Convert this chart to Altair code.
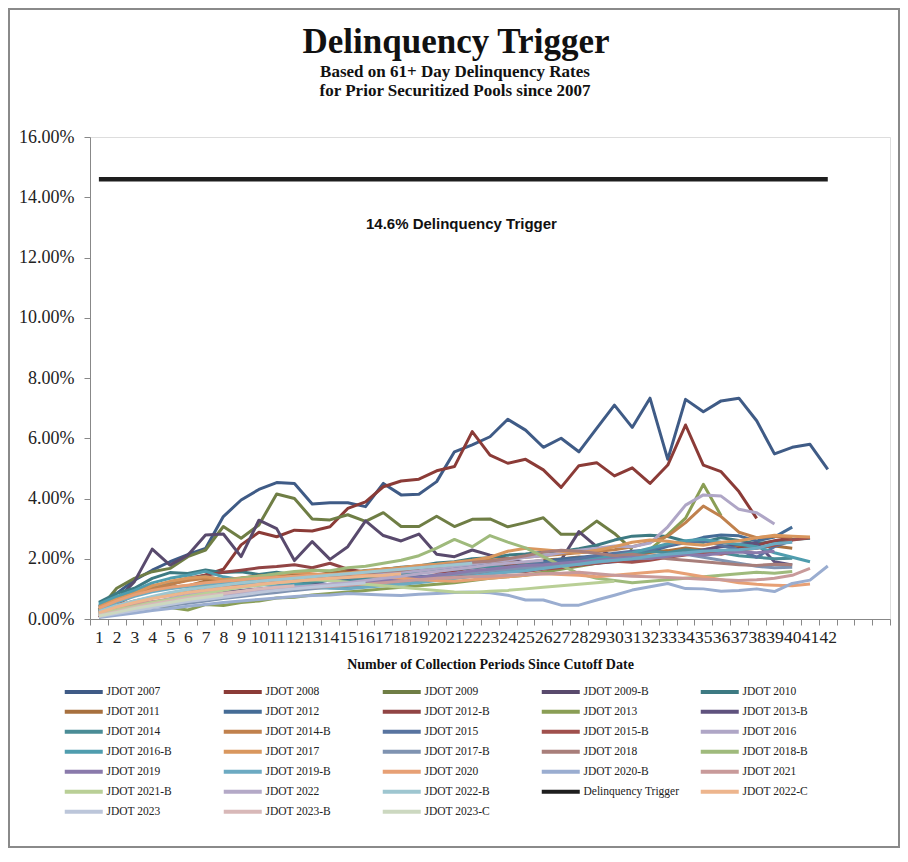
import altair as alt
import pandas as pd

# ---------------- data (percent values) ----------------
legend_order = [
    "JDOT 2007", "JDOT 2008", "JDOT 2009", "JDOT 2009-B", "JDOT 2010",
    "JDOT 2011", "JDOT 2012", "JDOT 2012-B", "JDOT 2013", "JDOT 2013-B",
    "JDOT 2014", "JDOT 2014-B", "JDOT 2015", "JDOT 2015-B", "JDOT 2016",
    "JDOT 2016-B", "JDOT 2017", "JDOT 2017-B", "JDOT 2018", "JDOT 2018-B",
    "JDOT 2019", "JDOT 2019-B", "JDOT 2020", "JDOT 2020-B", "JDOT 2021",
    "JDOT 2021-B", "JDOT 2022", "JDOT 2022-B", "Delinquency Trigger", "JDOT 2022-C",
    "JDOT 2023", "JDOT 2023-B", "JDOT 2023-C",
]
legend_colors = [
    "#3F5B86", "#8B3B37", "#6F7E45", "#594A6D", "#3D7A82",
    "#A7703E", "#456C96", "#914444", "#8A9E55", "#5F527E",
    "#4A8C96", "#C0814D", "#5874A0", "#A0504D", "#AFA6C6",
    "#4F9DAE", "#D9975E", "#7F93B1", "#A87E7A", "#9FBA7C",
    "#8A7AAB", "#6CAAC2", "#E7A075", "#9AADD0", "#C89A9A",
    "#B9CF96", "#B4A9C7", "#9EC6D0", "#1E1E1E", "#EDB58D",
    "#BCC6DA", "#D8B8B8", "#CCD8C0",
]

jdot_2007 = [0.40, 0.85, 1.29, 1.62, 1.90, 2.14, 2.34, 3.40, 3.95, 4.30, 4.53, 4.50, 3.82, 3.86, 3.86, 3.73, 4.50, 4.12, 4.14, 4.56, 5.55, 5.78, 6.05, 6.63, 6.27, 5.70, 6.00, 5.55, 6.33, 7.10, 6.36, 7.33, 5.30, 7.29, 6.88, 7.24, 7.33, 6.58, 5.48, 5.70, 5.80, 4.97]
jdot_2008 = [0.05, 0.50, 0.80, 1.00, 1.15, 1.30, 1.46, 1.65, 2.46, 2.88, 2.73, 2.95, 2.92, 3.06, 3.67, 3.89, 4.39, 4.58, 4.64, 4.92, 5.06, 6.22, 5.44, 5.17, 5.30, 4.95, 4.37, 5.09, 5.19, 4.75, 5.02, 4.50, 5.11, 6.44, 5.11, 4.89, 4.23, 3.34]
jdot_2009 = [0.30, 1.02, 1.35, 1.57, 1.68, 2.07, 2.29, 3.07, 2.68, 3.12, 4.15, 4.00, 3.32, 3.29, 3.46, 3.24, 3.53, 3.07, 3.07, 3.41, 3.07, 3.31, 3.32, 3.06, 3.20, 3.36, 2.81, 2.81, 3.25, 2.84, 2.30]
jdot_2009_b = [0.24, 0.63, 1.24, 2.32, 1.79, 2.12, 2.79, 2.82, 2.07, 3.28, 3.00, 1.94, 2.57, 1.98, 2.40, 3.26, 2.77, 2.59, 2.82, 2.15, 2.07, 2.29, 2.12, 2.00, 1.85, 1.80, 1.96, 2.90, 2.40, 2.02, 1.90]
jdot_2010 = [0.55, 0.85, 1.02, 1.35, 1.54, 1.51, 1.63, 1.54, 1.57, 1.48, 1.55, 1.46, 1.40, 1.47, 1.52, 1.61, 1.64, 1.72, 1.76, 1.86, 1.90, 2.00, 2.03, 2.12, 2.16, 2.22, 2.24, 2.33, 2.45, 2.62, 2.75, 2.78, 2.74, 2.58, 2.55, 2.70, 2.61, 2.50, 2.58, 2.64, 2.68]
jdot_2011 = [0.30, 0.56, 0.80, 0.93, 1.06, 1.10, 1.26, 1.30, 1.36, 1.43, 1.44, 1.51, 1.45, 1.53, 1.60, 1.57, 1.66, 1.69, 1.67, 1.76, 1.79, 1.77, 1.86, 1.89, 1.87, 1.96, 1.99, 2.06, 2.01, 2.11, 2.14, 2.21, 2.27, 2.36, 2.29, 2.41, 2.44, 2.37, 2.42, 2.35]
jdot_2012 = [0.20, 0.41, 0.55, 0.71, 0.79, 0.86, 0.94, 1.01, 1.07, 1.13, 1.17, 1.26, 1.19, 1.29, 1.34, 1.31, 1.41, 1.51, 1.54, 1.63, 1.69, 1.76, 1.79, 1.77, 1.86, 1.91, 1.99, 2.04, 2.11, 2.14, 2.21, 2.24, 2.41, 2.54, 2.71, 2.79, 2.76, 2.59, 2.72, 3.05]
jdot_2012_b = [0.25, 0.60, 0.90, 1.10, 1.20, 1.35, 1.45, 1.55, 1.62, 1.70, 1.74, 1.80, 1.70, 1.85, 1.65, 1.55, 1.60, 1.58, 1.62, 1.55, 1.60, 1.70, 1.75, 1.80, 1.85, 1.78, 1.90, 1.95, 2.00, 2.05, 2.10, 2.08, 2.15, 2.20, 2.18, 2.25, 2.35, 2.45, 2.60, 2.70]
jdot_2013 = [0.20, 0.35, 0.40, 0.45, 0.38, 0.30, 0.48, 0.45, 0.55, 0.60, 0.70, 0.72, 0.80, 0.85, 0.90, 0.95, 1.00, 1.05, 1.10, 1.15, 1.20, 1.28, 1.35, 1.40, 1.45, 1.55, 1.65, 1.75, 1.85, 1.95, 2.10, 2.30, 2.80, 3.35, 4.47, 3.43]
jdot_2013_b = [0.15, 0.30, 0.45, 0.55, 0.65, 0.75, 0.82, 0.90, 0.95, 1.00, 1.05, 1.10, 1.15, 1.12, 1.20, 1.25, 1.30, 1.35, 1.40, 1.38, 1.45, 1.50, 1.55, 1.60, 1.65, 1.70, 1.75, 1.80, 1.85, 1.90, 1.95, 2.00, 2.10, 2.20, 2.30, 2.40, 2.48, 2.52, 1.90, 1.79]
jdot_2014 = [0.45, 0.70, 0.90, 1.05, 1.20, 1.35, 1.40, 1.30, 1.25, 1.28, 1.20, 1.15, 1.22, 1.30, 1.25, 1.35, 1.40, 1.48, 1.55, 1.60, 1.65, 1.70, 1.75, 1.72, 1.80, 1.85, 1.90, 1.95, 2.00, 2.05, 2.15, 2.25, 2.20, 2.30, 2.25, 2.20, 2.10, 2.05, 2.00, 2.02]
jdot_2014_b = [0.35, 0.60, 0.85, 1.00, 1.15, 1.28, 1.35, 1.30, 1.20, 1.25, 1.30, 1.35, 1.40, 1.45, 1.50, 1.55, 1.60, 1.70, 1.75, 1.80, 1.85, 1.90, 1.95, 2.00, 2.05, 2.10, 2.15, 2.20, 2.25, 2.30, 2.40, 2.55, 2.75, 3.20, 3.75, 3.40, 2.88, 2.70, 2.75, 2.72]
jdot_2015 = [0.20, 0.35, 0.45, 0.55, 0.65, 0.72, 0.80, 0.85, 0.90, 0.95, 1.00, 1.05, 1.10, 1.15, 1.20, 1.25, 1.30, 1.35, 1.40, 1.45, 1.50, 1.55, 1.62, 1.70, 1.78, 1.85, 1.92, 2.00, 2.10, 2.18, 2.25, 2.30, 2.45, 2.55, 2.60, 2.45, 2.30, 2.05, 2.40, 2.60]
jdot_2015_b = [0.10, 0.25, 0.40, 0.52, 0.60, 0.70, 0.75, 0.82, 0.88, 0.92, 0.98, 1.05, 1.02, 1.10, 1.18, 1.15, 1.22, 1.30, 1.28, 1.35, 1.40, 1.48, 1.52, 1.60, 1.58, 1.65, 1.70, 1.78, 1.85, 1.92, 1.88, 1.95, 2.05, 2.12, 2.20, 2.15, 2.28, 2.35, 2.45, 2.62, 2.70]
jdot_2016 = [0.15, 0.30, 0.42, 0.55, 0.68, 0.80, 0.90, 1.00, 1.10, 1.18, 1.25, 1.30, 1.35, 1.32, 1.40, 1.45, 1.50, 1.55, 1.60, 1.68, 1.75, 1.82, 1.90, 1.95, 2.05, 2.10, 2.20, 2.28, 2.35, 2.42, 2.40, 2.52, 3.06, 3.78, 4.12, 4.08, 3.64, 3.53, 3.15]
jdot_2016_b = [0.50, 0.75, 0.95, 1.20, 1.35, 1.45, 1.58, 1.40, 1.30, 1.25, 1.20, 1.15, 1.10, 1.05, 1.08, 1.12, 1.15, 1.20, 1.25, 1.30, 1.35, 1.42, 1.50, 1.58, 1.65, 1.72, 1.80, 1.90, 2.00, 2.10, 2.20, 2.35, 2.50, 2.60, 2.65, 2.55, 2.48, 2.40, 2.20, 2.05, 1.90]
jdot_2017 = [0.40, 0.65, 0.85, 1.10, 1.25, 1.35, 1.40, 1.30, 1.35, 1.42, 1.48, 1.55, 1.50, 1.45, 1.52, 1.60, 1.65, 1.70, 1.78, 1.82, 1.88, 1.95, 2.05, 2.25, 2.35, 2.30, 2.25, 2.20, 2.28, 2.40, 2.55, 2.62, 2.58, 2.50, 2.45, 2.55, 2.60, 2.70, 2.78, 2.75, 2.72]
jdot_2017_b = [0.10, 0.20, 0.30, 0.38, 0.45, 0.52, 0.60, 0.68, 0.75, 0.82, 0.88, 0.95, 1.00, 1.05, 1.12, 1.18, 1.25, 1.30, 1.35, 1.42, 1.48, 1.52, 1.60, 1.65, 1.70, 1.72, 1.78, 1.82, 1.88, 1.95, 2.00, 2.02, 2.10, 2.15, 2.05, 1.95, 1.85, 1.75, 1.70, 1.72]
jdot_2018 = [0.25, 0.45, 0.60, 0.72, 0.85, 0.95, 1.05, 1.10, 1.15, 1.22, 1.28, 1.32, 1.38, 1.42, 1.48, 1.52, 1.58, 1.62, 1.70, 1.75, 1.82, 1.88, 1.92, 2.00, 2.10, 2.22, 2.28, 2.25, 2.18, 2.10, 2.15, 2.08, 2.00, 1.95, 1.90, 1.85, 1.80, 1.78, 1.82, 1.80]
jdot_2018_b = [0.20, 0.40, 0.55, 0.70, 0.85, 0.98, 1.10, 1.25, 1.35, 1.42, 1.50, 1.58, 1.62, 1.60, 1.70, 1.75, 1.85, 1.95, 2.10, 2.35, 2.64, 2.40, 2.77, 2.55, 2.36, 2.07, 1.78, 1.51, 1.35, 1.28, 1.20, 1.25, 1.30, 1.35, 1.40, 1.45, 1.50, 1.55, 1.52, 1.58]
jdot_2019 = [0.12, 0.28, 0.40, 0.52, 0.62, 0.70, 0.78, 0.85, 0.90, 0.95, 1.00, 1.05, 1.08, 1.12, 1.18, 1.22, 1.28, 1.32, 1.38, 1.45, 1.52, 1.60, 1.65, 1.72, 1.78, 1.80, 1.85, 1.90, 1.95, 2.00, 2.05, 2.02, 2.08, 2.15, 2.12, 2.18, 2.22, 2.20, 2.25]
jdot_2019_b = [0.30, 0.55, 0.75, 0.90, 1.00, 1.08, 1.15, 1.20, 1.18, 1.15, 1.10, 1.08, 1.05, 1.02, 1.00, 1.05, 1.10, 1.15, 1.20, 1.28, 1.35, 1.42, 1.50, 1.55, 1.60, 1.68, 1.75, 1.82, 1.90, 1.95, 2.00, 2.08, 2.15, 2.20, 2.25, 2.28, 2.30, 2.35, 2.50, 2.55]
jdot_2020 = [0.35, 0.60, 0.80, 0.95, 1.05, 1.12, 1.20, 1.25, 1.30, 1.35, 1.38, 1.42, 1.45, 1.48, 1.50, 1.45, 1.40, 1.35, 1.30, 1.28, 1.25, 1.30, 1.35, 1.40, 1.45, 1.50, 1.48, 1.45, 1.40, 1.45, 1.50, 1.55, 1.60, 1.50, 1.40, 1.30, 1.20, 1.15, 1.12, 1.10, 1.16]
jdot_2020_b = [0.05, 0.12, 0.20, 0.28, 0.35, 0.42, 0.48, 0.55, 0.60, 0.65, 0.70, 0.75, 0.78, 0.80, 0.85, 0.82, 0.80, 0.78, 0.82, 0.85, 0.88, 0.90, 0.87, 0.79, 0.63, 0.63, 0.46, 0.46, 0.63, 0.79, 0.96, 1.07, 1.18, 1.01, 1.00, 0.92, 0.95, 1.00, 0.91, 1.18, 1.29, 1.76]
jdot_2021 = [0.20, 0.35, 0.48, 0.58, 0.65, 0.72, 0.78, 0.85, 0.90, 0.95, 1.00, 1.02, 1.05, 1.08, 1.12, 1.15, 1.20, 1.25, 1.30, 1.35, 1.38, 1.40, 1.42, 1.45, 1.48, 1.50, 1.52, 1.55, 1.50, 1.45, 1.42, 1.40, 1.38, 1.35, 1.32, 1.30, 1.28, 1.30, 1.35, 1.45, 1.68]
jdot_2021_b = [0.15, 0.30, 0.42, 0.55, 0.65, 0.75, 0.85, 0.95, 1.05, 1.12, 1.20, 1.25, 1.30, 1.28, 1.22, 1.15, 1.10, 1.05, 1.00, 0.95, 0.90, 0.88, 0.92, 0.95, 1.00, 1.05, 1.10, 1.15, 1.20, 1.25]
jdot_2022 = [0.10, 0.22, 0.35, 0.45, 0.55, 0.65, 0.72, 0.80, 0.88, 0.95, 1.00, 1.05, 1.10, 1.15, 1.20, 1.28, 1.35, 1.42, 1.50, 1.58, 1.65, 1.72, 1.80, 1.85, 1.90, 1.95]
jdot_2022_b = [0.25, 0.45, 0.60, 0.75, 0.88, 0.98, 1.05, 1.12, 1.20, 1.25, 1.30, 1.35, 1.40, 1.45, 1.50, 1.55, 1.60, 1.65, 1.70, 1.75, 1.80, 1.85]
delinquency_trigger = [14.6] * 42
jdot_2022_c = [0.20, 0.40, 0.55, 0.68, 0.78, 0.88, 0.95, 1.02, 1.08, 1.15, 1.20, 1.25, 1.30, 1.35, 1.38, 1.42, 1.45, 1.50]
jdot_2023 = [0.08, 0.18, 0.28, 0.38, 0.48, 0.58, 0.65, 0.72, 0.80, 0.88, 0.95, 1.00, 1.05, 1.10, 1.15, 1.20]
jdot_2023_b = [0.12, 0.25, 0.38, 0.50, 0.60, 0.70, 0.78, 0.85, 0.92, 1.00, 1.05, 1.10]
jdot_2023_c = [0.10, 0.22, 0.35, 0.45, 0.55, 0.65, 0.72, 0.80]

series_values = [
    jdot_2007, jdot_2008, jdot_2009, jdot_2009_b, jdot_2010,
    jdot_2011, jdot_2012, jdot_2012_b, jdot_2013, jdot_2013_b,
    jdot_2014, jdot_2014_b, jdot_2015, jdot_2015_b, jdot_2016,
    jdot_2016_b, jdot_2017, jdot_2017_b, jdot_2018, jdot_2018_b,
    jdot_2019, jdot_2019_b, jdot_2020, jdot_2020_b, jdot_2021,
    jdot_2021_b, jdot_2022, jdot_2022_b, delinquency_trigger, jdot_2022_c,
    jdot_2023, jdot_2023_b, jdot_2023_c,
]

x_categories = list(range(1, 46))     # axis has 45 category slots
last_labeled_period = 42
y_ticks = [0, 0.02, 0.04, 0.06, 0.08, 0.10, 0.12, 0.14, 0.16]

title_text = "Delinquency Trigger"
subtitle_line1 = "Based on 61+ Day Delinquency Rates"
subtitle_line2 = "for Prior Securitized Pools since 2007"

annotation_text = ["14.6% Delinquency Trigger"]
annotation_period = [21]
annotation_rate = [0.1311]

# ---------------- build table ----------------
rows = []
for name, vals in zip(legend_order, series_values):
    for i, v in enumerate(vals):
        rows.append({"series": name, "period": i + 1, "rate": v / 100.0})
df = pd.DataFrame(rows)
ann = pd.DataFrame({"period": annotation_period, "rate": annotation_rate, "label": annotation_text})

SERIF = "Liberation Serif"

x_scale = alt.Scale(type="band", domain=x_categories, paddingInner=0, paddingOuter=0)
x_axis = alt.Axis(
    labelExpr=f"datum.value <= {last_labeled_period} ? datum.label : ''",
    tickBand="extent",
    labelAngle=0,
    labelOverlap=False,
    labelFlush=False,
    labelBound=False,
    labelFont=SERIF,
    labelFontSize=17.5,
    labelColor="#222222",
    labelPadding=3,
    tickSize=6,
    tickColor="#888888",
    domainColor="#888888",
    grid=False,
    title="Number of Collection Periods Since Cutoff Date",
    titleFont=SERIF,
    titleFontSize=14,
    titleFontWeight="bold",
    titleColor="#111111",
    titlePadding=12,
)
y_enc = alt.Y(
    "rate:Q",
    scale=alt.Scale(domain=[0, 0.16], nice=False),
    axis=alt.Axis(
        values=y_ticks,
        format=".2%",
        labelFont=SERIF,
        labelFontSize=18,
        labelColor="#222222",
        labelPadding=10,
        tickSize=6,
        tickColor="#888888",
        domainColor="#888888",
        grid=False,
        title=None,
    ),
)

lines = alt.Chart(df).mark_line(strokeJoin="round").encode(
    x=alt.X("period:O", scale=x_scale, axis=x_axis),
    y=y_enc,
    color=alt.Color(
        "series:N",
        scale=alt.Scale(domain=legend_order, range=legend_colors),
        sort=legend_order,
        legend=alt.Legend(
            title=None,
            orient="none",
            legendX=-12,
            legendY=549,
            columns=5,
            direction="horizontal",
            gridAlign="all",
            symbolLimit=40,
            symbolType="M-9.5,0L9.5,0",
            symbolSize=16,
            symbolStrokeWidth=4,
            labelFont=SERIF,
            labelFontSize=11.5,
            labelColor="#222222",
            labelOffset=17,
            columnPadding=12,
            rowPadding=3,
            padding=0,
        ),
    ),
    strokeWidth=alt.condition(
        "datum.series === 'Delinquency Trigger'", alt.value(4.5), alt.value(3)
    ),
)

label = alt.Chart(ann).mark_text(
    font="Liberation Sans", fontSize=15, fontWeight="bold", color="#111111", dx=7
).encode(x=alt.X("period:O", scale=x_scale), y="rate:Q", text="label:N")

one_row = alt.Data(values=[{}])

border = alt.Chart(one_row).mark_rect(
    fill="transparent", stroke="#8a8a8a", strokeWidth=2
).encode(
    x=alt.value(-81), x2=alt.value(809), y=alt.value(-128), y2=alt.value(710)
)

title_mark = alt.Chart(one_row).mark_text(
    font=SERIF, fontSize=35, fontWeight="bold", color="#111111",
    align="center", baseline="alphabetic",
).encode(x=alt.value(366), y=alt.value(-84), text=alt.value(title_text))

sub1_mark = alt.Chart(one_row).mark_text(
    font=SERIF, fontSize=17, fontWeight="bold", color="#111111",
    align="center", baseline="alphabetic",
).encode(x=alt.value(365), y=alt.value(-60), text=alt.value(subtitle_line1))

sub2_mark = alt.Chart(one_row).mark_text(
    font=SERIF, fontSize=17, fontWeight="bold", color="#111111",
    align="center", baseline="alphabetic",
).encode(x=alt.value(365), y=alt.value(-41), text=alt.value(subtitle_line2))

chart = alt.layer(border, title_mark, sub1_mark, sub2_mark, lines, label).properties(
    width=800,
    height=482,
    padding={"left": 82, "top": 129, "right": 10, "bottom": 229},
    autosize=alt.AutoSizeParams(type="none"),
).configure_view(strokeWidth=0).configure(background="white")

chart.save("out.html", embed_options={"renderer": "svg", "actions": False})
